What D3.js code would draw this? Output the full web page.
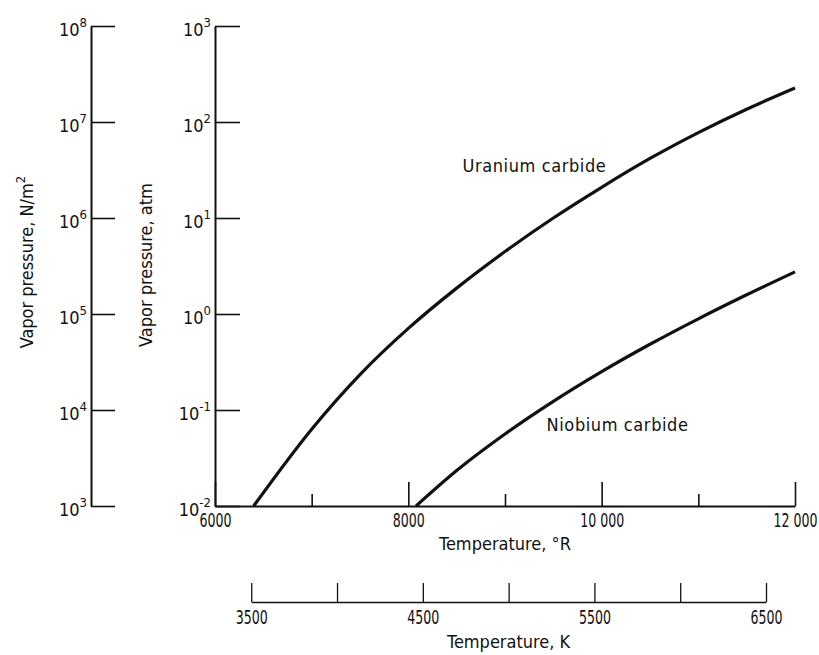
<!DOCTYPE html>
<html>
<head>
<meta charset="utf-8">
<script src="https://cdn.jsdelivr.net/npm/d3@7"></script>
<style>
  body { margin: 0; background: #fff; }
  svg { display: block; }
  .num { font-family: "DejaVu Sans Condensed", "DejaVu Sans", sans-serif; font-size: 18px; fill: #111; }
  .xnum { font-family: "DejaVu Sans Condensed", "DejaVu Sans", sans-serif; font-size: 20px; fill: #111; }
  .lbl { font-family: "DejaVu Sans Condensed", "DejaVu Sans", sans-serif; font-size: 18px; fill: #111; }
</style>
</head>
<body>
<svg id="chart" width="819" height="655"></svg>
<script>
// temperature in deg R, vapor pressure in atm
const ucTemp = [6400, 7000, 7500, 8000, 8500, 9000, 9500, 10000, 10500, 11000, 11500, 12000];
const ucAtm = [0.01, 0.0631, 0.234, 0.708, 1.86, 4.47, 10.0, 20.9, 41.7, 77.6, 136, 226];
const nbTemp = [8080, 8500, 9000, 9500, 10000, 10500, 11000, 11500, 12000];
const nbAtm = [0.01, 0.0234, 0.0562, 0.123, 0.251, 0.484, 0.891, 1.585, 2.75];

const curveNames = ["Uranium carbide", "Niobium carbide"];
const labelTemp = [8560, 9430];
const labelAtm = [30, 0.06];

const rTicks = [6000, 8000, 10000, 12000];
const rTickLabels = ["6000", "8000", "10 000", "12 000"];
const rMinor = [7000, 9000, 11000];
const kTicks = [3500, 4000, 4500, 5000, 5500, 6000, 6500];
const kTickLabels = ["3500", "", "4500", "", "5500", "", "6500"];
const atmExp = [-2, -1, 0, 1, 2, 3];
const nExp = [3, 4, 5, 6, 7, 8];

const svg = d3.select("#chart");

const x = d3.scaleLinear().domain([6000, 12000]).range([215, 795]);
const y = d3.scaleLog().domain([1e-2, 1e3]).range([506, 26]);
const yN = d3.scaleLog().domain([1e3, 1e8]).range([506, 26]);
// kelvin scale as drawn, a little off the exact 1.8 factor
const xK = d3.scaleLinear().domain([3500, 6500]).range([x(6375), x(11700)]);

function styleAxis(g) {
  g.select(".domain").attr("stroke", "#111").attr("stroke-width", 2);
  g.selectAll(".tick line").attr("stroke", "#111").attr("stroke-width", 1.6);
}

// narrow, tall digits like the original typeface
function narrowNums(g, pad) {
  g.selectAll(".tick text")
    .attr("class", "xnum").attr("font-family", null).attr("font-size", null).attr("fill", null)
    .attr("transform", `translate(0,${pad}) scale(0.7,1)`)
    .attr("y", 0);
}

function powerLabels(g, exps) {
  g.selectAll(".tick text").each(function (d, i) {
    const t = d3.select(this).attr("class", "num").attr("x", -4).attr("y", 9).attr("dy", null)
      .attr("font-family", null).attr("font-size", null).attr("fill", null);
    t.text(null);
    t.append("tspan").text("10");
    t.append("tspan").attr("dy", -9).attr("font-size", 13).text(exps[i]);
  });
}

// left axis, N/m^2
const gN = svg.append("g").attr("transform", "translate(91,0)")
  .call(d3.axisLeft(yN).tickValues(nExp.map(e => Math.pow(10, e))).tickSize(-24).tickSizeOuter(0));
styleAxis(gN);
powerLabels(gN, nExp);

// main axis, atm
const gA = svg.append("g").attr("transform", "translate(215,0)")
  .call(d3.axisLeft(y).tickValues(atmExp.map(e => Math.pow(10, e))).tickSize(-25).tickSizeOuter(0));
styleAxis(gA);
powerLabels(gA, atmExp);

// bottom axis, deg R
const gR = svg.append("g").attr("transform", "translate(0,506)")
  .call(d3.axisBottom(x).tickValues(rTicks).tickSize(-24).tickSizeOuter(0)
    .tickFormat((d, i) => rTickLabels[i]));
styleAxis(gR);
narrowNums(gR, 7);

const gRm = svg.append("g").attr("transform", "translate(0,506)")
  .call(d3.axisBottom(x).tickValues(rMinor).tickSize(-12).tickSizeOuter(0).tickFormat(""));
gRm.select(".domain").remove();
styleAxis(gRm);

// kelvin axis
const gK = svg.append("g").attr("transform", "translate(0,602)")
  .call(d3.axisBottom(xK).tickValues(kTicks).tickSize(-19).tickSizeOuter(0)
    .tickFormat((d, i) => kTickLabels[i]));
styleAxis(gK);
gK.select(".domain").attr("stroke-width", 1.5);
gK.selectAll(".tick line").attr("stroke-width", 1.3);
narrowNums(gK, 8);

// curves
const line = d3.line().x(d => x(d[0])).y(d => y(d[1])).curve(d3.curveMonotoneX);
[[ucTemp, ucAtm], [nbTemp, nbAtm]].forEach(([t, p]) => {
  svg.append("path")
    .datum(t.map((v, i) => [v, p[i]]))
    .attr("d", line)
    .attr("fill", "none")
    .attr("stroke", "#111")
    .attr("stroke-width", 3.2);
});

svg.selectAll(".curve-label")
  .data(curveNames)
  .join("text")
  .attr("class", "lbl")
  .attr("letter-spacing", 0.6)
  .attr("x", (d, i) => x(labelTemp[i]))
  .attr("y", (d, i) => y(labelAtm[i]))
  .text(d => d);

// axis titles
svg.append("text").attr("class", "lbl").attr("text-anchor", "middle")
  .attr("x", x(9000)).attr("y", 550)
  .text("Temperature, °R");
svg.append("text").attr("class", "lbl").attr("text-anchor", "middle")
  .attr("x", (xK(3500) + xK(6500)) / 2).attr("y", 648)
  .text("Temperature, K");

const tN = svg.append("text").attr("class", "lbl").attr("text-anchor", "middle")
  .attr("transform", "translate(33,262) rotate(-90)");
tN.append("tspan").text("Vapor pressure, N/m");
tN.append("tspan").attr("dy", -8).attr("font-size", 13).text("2");

svg.append("text").attr("class", "lbl").attr("text-anchor", "middle")
  .attr("transform", "translate(152,265) rotate(-90)")
  .text("Vapor pressure, atm");
</script>
</body>
</html>
